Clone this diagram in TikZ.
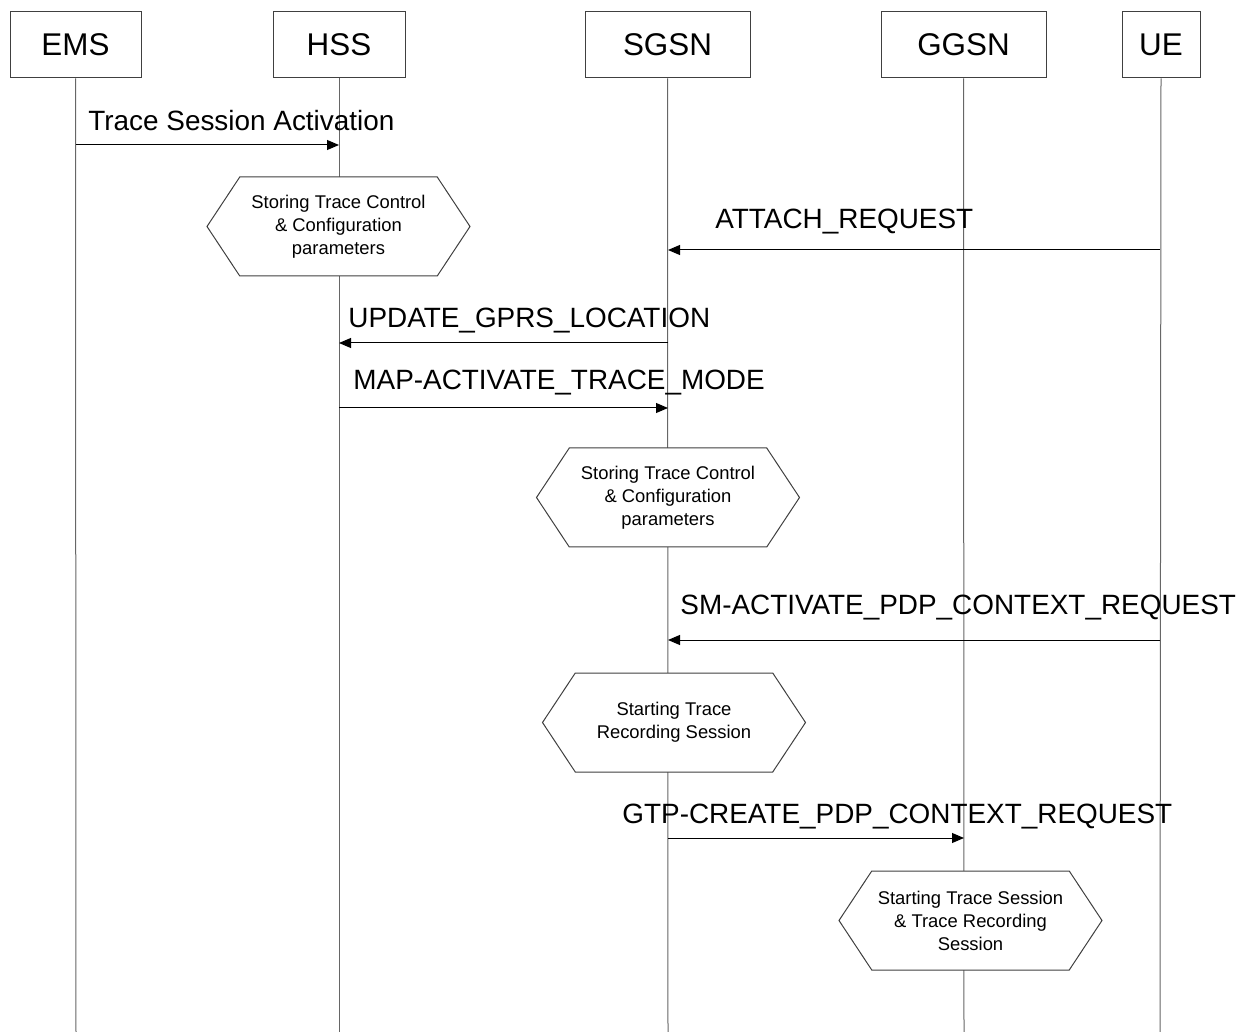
\documentclass[tikz,border=0pt]{standalone}
\usepackage{fontspec}
\setmainfont{Liberation Sans}
\usetikzlibrary{arrows.meta,shapes.symbols,positioning}

\begin{document}
\begin{tikzpicture}[x=0.5pt,y=-0.5pt,
  entity/.style={draw=black!75,line width=0.5pt,minimum height=33pt,inner sep=0pt,font=\fontsize{15.7}{18}\selectfont},
  life/.style={draw=black!60,line width=0.5pt},
  msg/.style={draw=black,line width=0.5pt,-{Triangle[length=6pt,width=5pt]}},
  msglabel/.style={anchor=base west,inner sep=0pt,font=\fontsize{13.95}{16}\selectfont},
  hexa/.style={draw=black!75,fill=white,line width=0.5pt,shape=signal,signal from=nowhere,signal to=west and east,
    signal pointer angle=113,minimum width=131.5pt,minimum height=49.5pt,inner sep=0pt,align=center,
    font=\fontsize{9.2}{11.5}\selectfont}]
  \useasboundingbox (0,0) rectangle (1244,1032);

  % entities
  \node[entity,minimum width=65.5pt] (ems) at (75.5,45) {EMS};
  \node[entity,minimum width=66pt] (hss) at (339,45) {HSS};
  \node[entity,minimum width=82.5pt] (sgsn) at (667.5,45) {SGSN};
  \node[entity,minimum width=82.5pt] (ggsn) at (963.5,45) {GGSN};
  \node[entity,minimum width=39pt] (ue) at (1161,45) {UE};

  % lifelines
  \coordinate (ems-end) at (76,1032);
  \coordinate (hss-end) at (339,1032);
  \coordinate (sgsn-end) at (668,1032);
  \coordinate (ggsn-end) at (964,1032);
  \coordinate (ue-end) at (1160,1032);
  \foreach \who in {ems,hss,sgsn,ggsn,ue}
    \draw[life] (\who.south) -- (\who-end);

  % message end points
  \coordinate (ems-1) at (76,145);   \coordinate (hss-1) at (339,145);
  \coordinate (ue-2) at (1160,250);  \coordinate (sgsn-2) at (668,250);
  \coordinate (sgsn-3) at (668,343); \coordinate (hss-3) at (339,343);
  \coordinate (hss-4) at (339,408);  \coordinate (sgsn-4) at (668,408);
  \coordinate (ue-5) at (1160,640);  \coordinate (sgsn-5) at (668,640);
  \coordinate (sgsn-6) at (668,838); \coordinate (ggsn-6) at (964,838);

  % messages
  \draw[msg] (ems-1) -- (hss-1);
  \node[msglabel] (l-trace) at (88,131) {Trace Session Activation};
  \draw[msg] (ue-2) -- (sgsn-2);
  \node[msglabel] (l-attach) at (715,229) {ATTACH\_REQUEST};
  \draw[msg] (sgsn-3) -- (hss-3);
  \node[msglabel] (l-update) at (348,328) {UPDATE\_GPRS\_LOCATION};
  \draw[msg] (hss-4) -- (sgsn-4);
  \node[msglabel] (l-map) at (353,390) {MAP-ACTIVATE\_TRACE\_MODE};
  \draw[msg] (ue-5) -- (sgsn-5);
  \node[msglabel] (l-sm) at (680,615) {SM-ACTIVATE\_PDP\_CONTEXT\_REQUEST};
  \draw[msg] (sgsn-6) -- (ggsn-6);
  \node[msglabel] (l-gtp) at (622,823) {GTP-CREATE\_PDP\_CONTEXT\_REQUEST};

  % actions
  \node[hexa] (hss-store) at (338.5,226.5) {Storing Trace Control\\\& Configuration\\parameters};
  \node[hexa] (sgsn-store) at (668,497.5) {Storing Trace Control\\\& Configuration\\parameters};
  \node[hexa] (sgsn-start) at (674,722.5) {Starting Trace\\Recording Session};
  \node[hexa] (ggsn-start) at (970.5,920.5) {Starting Trace Session\\\& Trace Recording\\Session};
\end{tikzpicture}
\end{document}
